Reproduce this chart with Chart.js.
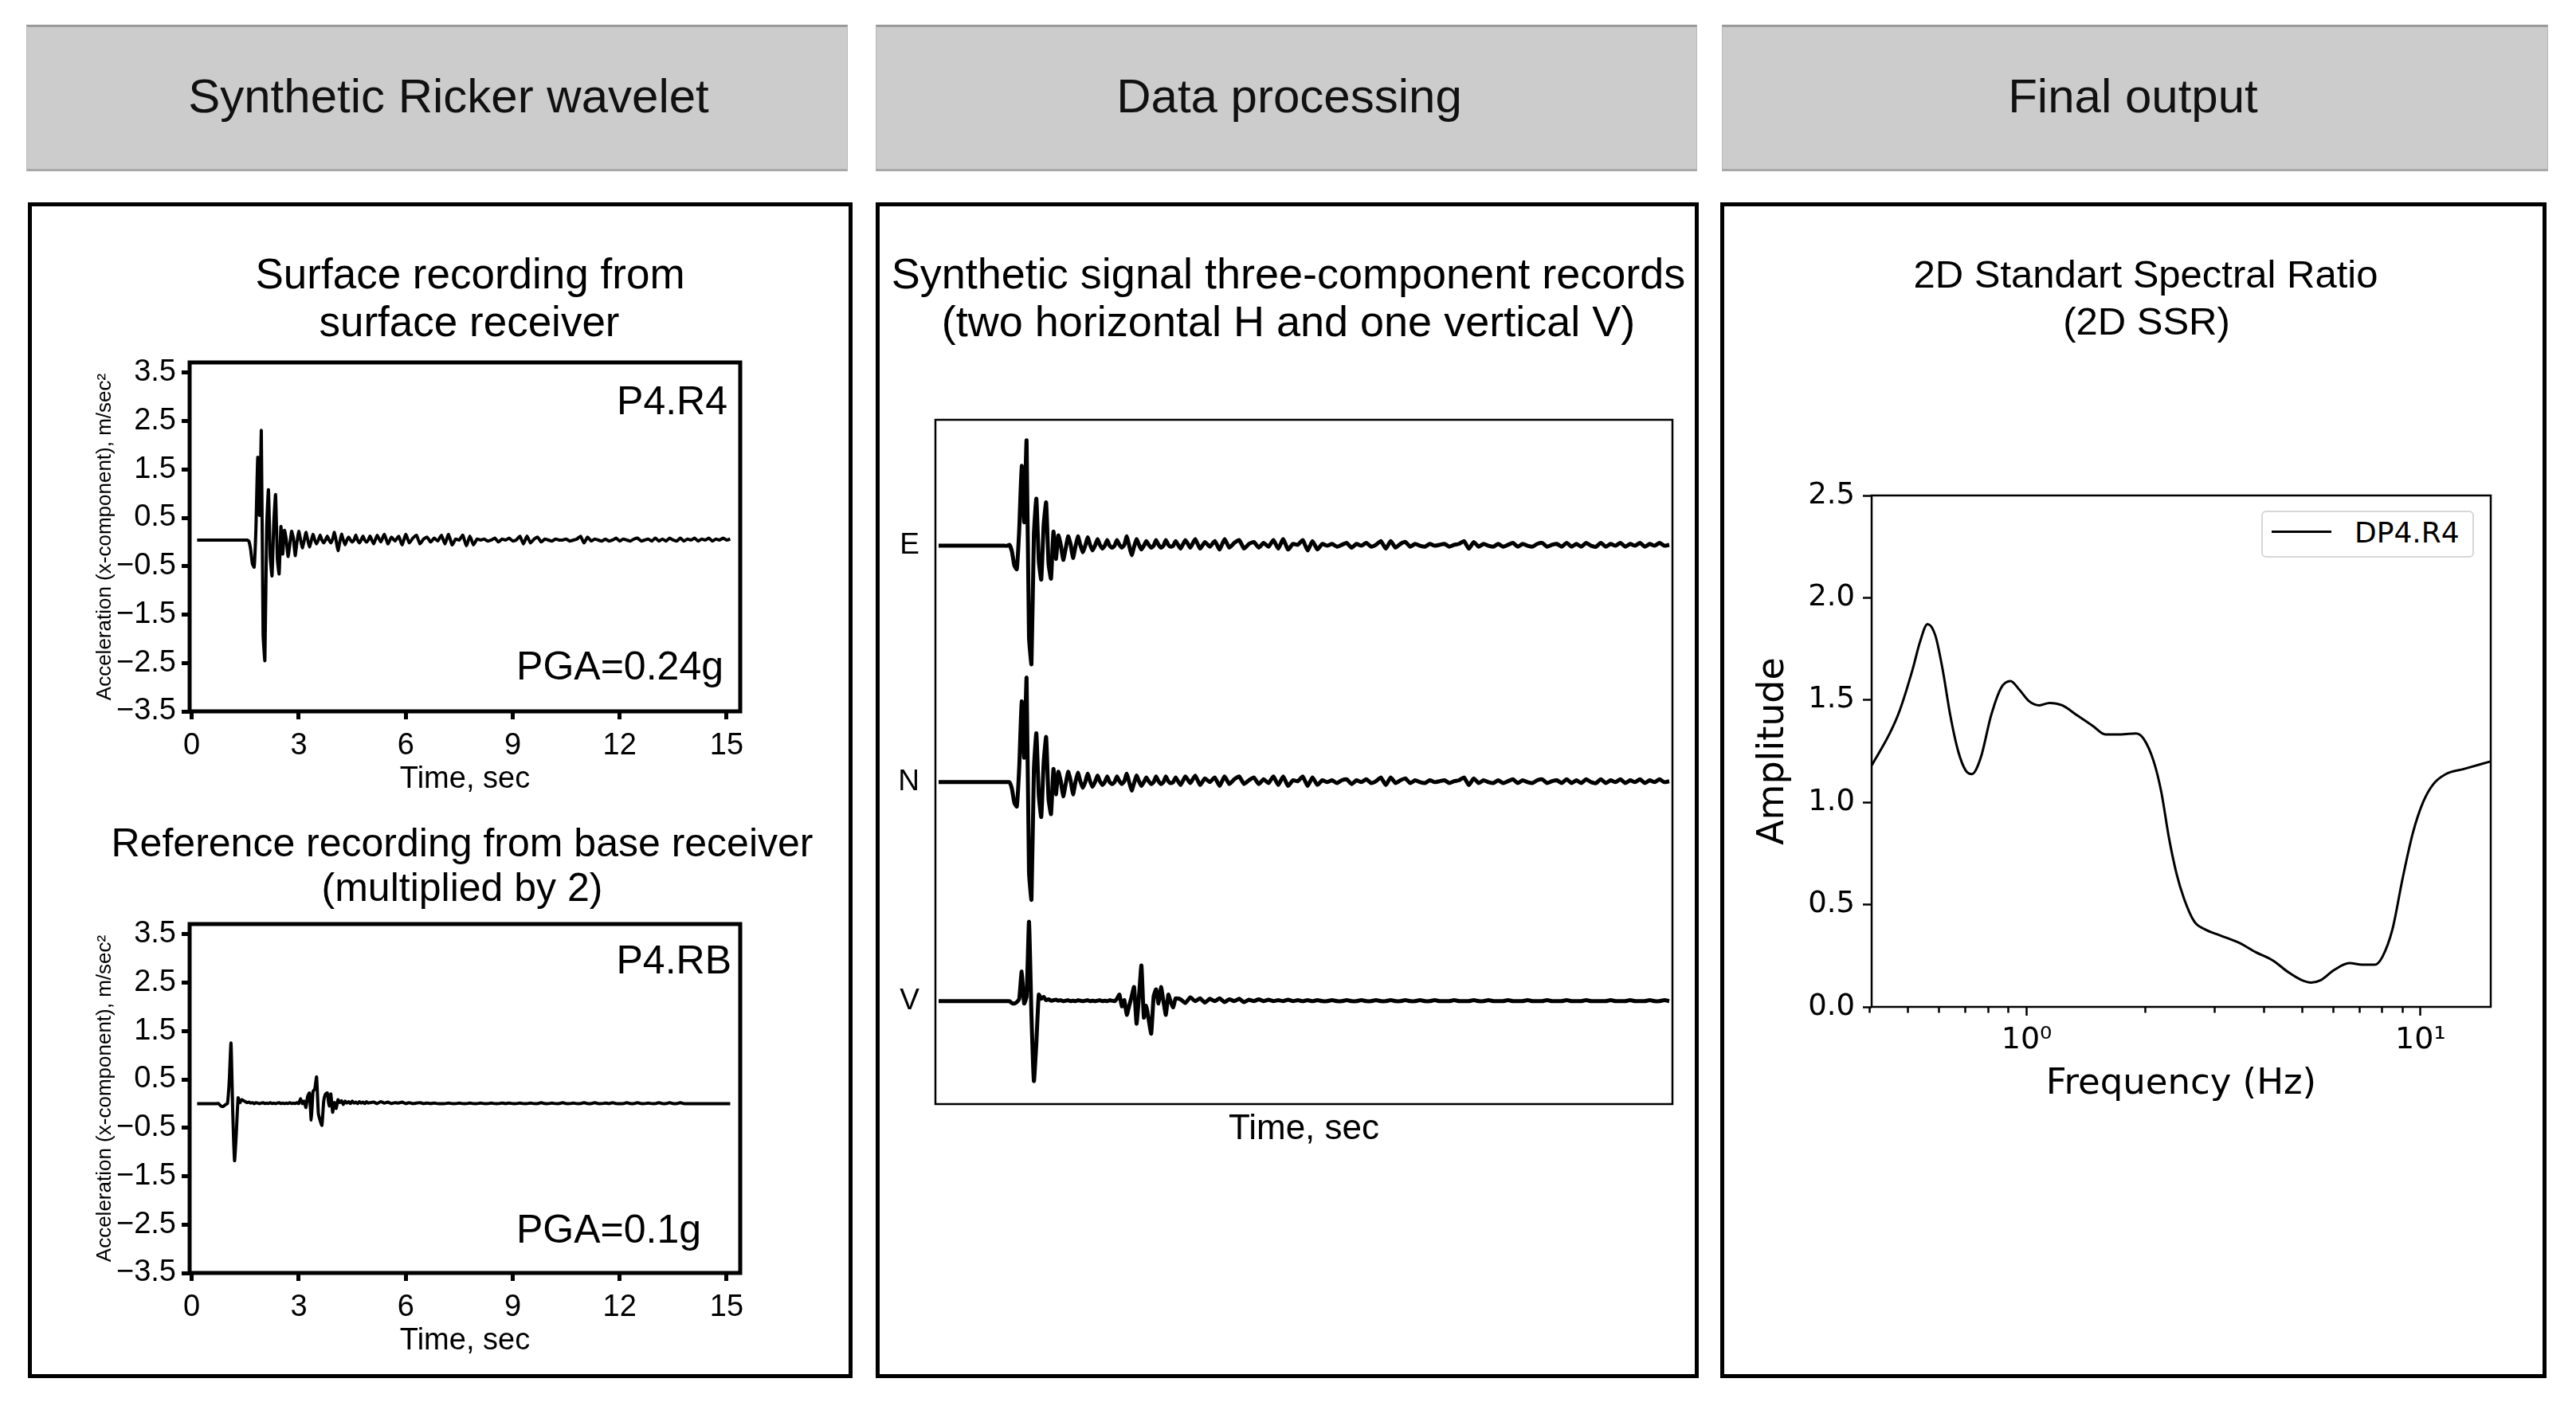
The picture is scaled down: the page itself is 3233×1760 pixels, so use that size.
<!DOCTYPE html>
<html><head><meta charset="utf-8"><title>Synthetic Ricker wavelet - 2D SSR</title>
<script src="https://cdn.jsdelivr.net/npm/chart.js@4.4.1/dist/chart.umd.min.js"></script>
<style>
html,body{margin:0;padding:0;background:#fff}
body{position:relative;width:3233px;height:1760px;overflow:hidden;font-family:'Liberation Sans',Arial,Helvetica,sans-serif;color:#000}
.hdr{position:absolute;top:31px;height:184px;box-sizing:border-box;background:#cccccc;border:1px solid #b8b8b8;border-top:3px solid #9a9a9a;border-bottom:3px solid #a8a8a8}
.panel{position:absolute;top:254px;height:1476px;box-sizing:border-box;border:5px solid #000;background:#fff}
.t{position:absolute;white-space:nowrap;line-height:1}
.c{text-align:center;width:1200px}
canvas{position:absolute}
.legend{position:absolute;left:2838px;top:641px;width:267px;height:59px;box-sizing:border-box;border:2px solid #d6d6d6;border-radius:6px;background:#fff}
.legend .ln{position:absolute;left:11px;top:23px;width:75px;height:3px;background:#000}
.legend .lt{position:absolute;left:115px;top:8px;font-family:'DejaVu Sans',sans-serif;font-size:36px;line-height:1;white-space:nowrap}
</style></head>
<body>
<div class="hdr" style="left:33px;width:1031px"></div>
<div class="hdr" style="left:1099px;width:1031px"></div>
<div class="hdr" style="left:2161px;width:1037px"></div>
<div class="panel" style="left:35px;width:1035px"></div>
<div class="panel" style="left:1099px;width:1033px"></div>
<div class="panel" style="left:2159px;width:1037px"></div>

<canvas id="rec1" width="859" height="586" style="left:100px;top:415px"></canvas>
<canvas id="rec2" width="859" height="586" style="left:100px;top:1120px"></canvas>
<canvas id="mid" width="1009" height="967" style="left:1110px;top:477px"></canvas>
<canvas id="ssr" width="986" height="816" style="left:2170px;top:572px"></canvas>

<div class="t c" style="left:-37px;top:91px;font-size:60px;color:#111">Synthetic Ricker wavelet</div>
<div class="t c" style="left:1018px;top:91px;font-size:60px;color:#111">Data processing</div>
<div class="t c" style="left:2077px;top:91px;font-size:60px;color:#111">Final output</div>

<div class="t c" style="left:-10px;top:317px;font-size:53px">Surface recording from</div>
<div class="t c" style="left:-11px;top:377px;font-size:53px">surface receiver</div>
<div class="t c" style="left:-20px;top:1033px;font-size:50px">Reference recording from base receiver</div>
<div class="t c" style="left:-20px;top:1089px;font-size:50px">(multiplied by 2)</div>

<div class="t c" style="left:1017px;top:316px;font-size:54px">Synthetic signal three-component records</div>
<div class="t c" style="left:1017px;top:376px;font-size:54px">(two horizontal H and one vertical V)</div>

<div class="t c" style="left:2093px;top:320px;font-size:49px">2D Standart Spectral Ratio</div>
<div class="t c" style="left:2094px;top:379px;font-size:49px">(2D SSR)</div>

<div class="t" style="right:2320px;top:478px;font-size:50px">P4.R4</div>
<div class="t" style="right:2325px;top:811px;font-size:50px">PGA=0.24g</div>
<div class="t" style="right:2315px;top:1180px;font-size:50px">P4.RB</div>
<div class="t" style="right:2353px;top:1518px;font-size:50px">PGA=0.1g</div>

<div class="legend"><div class="ln"></div><div class="lt" id="legendText"></div></div>

<script>
// ---------------- sampling of the acceleration records ----------------
const FINE_START = 0.15, FINE_STEP = 0.05;    // 0.15 s ... 5.00 s
const COARSE_START = 5.1, COARSE_STEP = 0.1;  // 5.1 s ... 15.1 s

// Surface recording P4.R4 (m/s^2)
const r4Fine = [
 0.04,0.04,0.04,0.04,0.04,0.04,0.04,0.04,0.04,0.04,
 0.04,0.04,0.04,0.04,0.04,0.04,0.04,0.04,0.04,0.04,
 0.04,0.04,0.04,0.04,0.04,0.04,0.04,0.04,0.04,
 0.02,-0.15,-0.45,-0.52,0.30,1.75,0.55,2.30,-1.90,-2.45,
 0.30,1.08,-0.30,-0.70,0.40,0.98,-0.35,-0.66,0.32,-0.25,
 0.24,0.05,-0.30,-0.05,0.22,0.08,-0.28,0.00,0.22,0.05,
 -0.12,0.02,0.20,0.05,-0.10,0.02,0.16,0.04,-0.04,0.04,
 0.14,0.04,-0.02,0.04,0.12,0.04,-0.02,0.06,0.20,0.02,
 -0.18,0.00,0.16,0.04,-0.06,0.04,0.10,0.04,0.00,0.04,
 0.14,0.04,-0.02,0.04,0.12,0.04,0.00,0.04,0.12
];
const r4Coarse = [
 -0.04,0.14,0.00,0.16,-0.04,0.10,0.02,0.12,-0.06,0.16,
 -0.02,0.08,0.14,-0.04,0.06,0.10,0.00,0.08,0.02,0.14,
 -0.04,0.16,-0.06,0.06,0.04,0.14,-0.08,0.12,-0.06,0.06,
 0.04,0.06,0.02,0.04,0.08,0.00,0.06,0.04,0.08,0.02,
 0.04,0.12,-0.04,0.12,-0.02,0.06,0.10,0.00,0.06,0.04,
 0.02,0.06,0.04,0.04,0.06,0.02,0.04,0.06,0.12,-0.02,
 0.10,0.02,0.06,0.04,0.02,0.06,0.02,0.04,0.08,0.02,
 0.06,0.04,0.02,0.06,0.08,0.02,0.04,0.06,0.02,0.08,
 0.02,0.06,0.02,0.08,0.04,0.02,0.08,0.02,0.06,0.04,
 0.08,0.02,0.06,0.04,0.08,0.02,0.06,0.04,0.08,0.04,
 0.06
];

// Reference recording P4.RB, multiplied by 2 (m/s^2)
const rbFine = [
 0,0,0,0,0,0,0,0,0,0,
 0,0,0,-0.04,-0.06,-0.05,-0.02,0.00,0.45,1.25,
 -0.20,-1.18,-0.60,0.12,0.02,0.08,0.06,0.04,0.02,
 0.03,0.01,0.02,0.00,0.02,0.01,0.00,0.01,0.02,0.00,
 0.01,0.00,0.02,0.00,0.01,0.00,0.01,0.02,0.00,0.01,
 0.00,0.01,0.00,0.02,0.00,0.01,0.00,0.02,0.00,0.10,
 0.00,0.05,-0.08,0.15,0.22,-0.34,0.25,0.30,0.55,-0.20,
 -0.35,-0.45,0.05,0.20,0.22,-0.05,0.20,-0.18,0.02,-0.10,
 0.08,0.02,0.06,-0.02,0.05,0.01,0.04,0.00,0.05,0.01,
 0.03,0.00,0.04,0.01,0.03,0.00,0.04,0.01,0.02
];
const rbCoarse = [
 0.03,0.00,0.04,0.01,0.03,0.00,0.02,0.01,0.03,0.00,
 0.02,0.00,0.01,0.02,0.00,0.01,0.00,0.01,0.00,0.00,
 0.00,0.01,0.00,0.00,0.01,0.00,0.00,0.01,0.00,0.00,
 0.01,0.00,0.00,0.01,0.00,0.00,0.01,0.00,0.01,0.00,
 0.00,0.01,0.00,0.00,0.01,0.00,0.00,0.02,0.00,0.00,
 0.01,0.00,0.00,0.02,0.00,0.00,0.01,0.00,0.00,0.02,
 0.00,0.00,0.02,0.00,0.00,0.01,0.00,0.02,0.00,0.00,
 0.00,0.02,0.00,0.00,0.02,0.00,0.00,0.01,0.00,0.00,
 0.02,0.00,0.00,0.02,0.00,0.00,0.02,0.00,0.00,0.00,
 0.00,0.00,0.00,0.00,0.00,0.00,0.00,0.00,0.00,0.00,
 0.00
];

// Three-component synthetic records (relative amplitude)
const eFine = [
 0,0,0,0,0,0,0,0,0,0,
 0,0,0,0,0,0,0,0,0,0,
 0,0,0,0,0,0,0,0,0,
 0.02,-0.12,-0.42,-0.50,0.35,1.70,0.50,2.24,-1.95,-2.52,
 0.25,1.00,-0.32,-0.72,0.45,0.92,-0.38,-0.70,0.30,-0.28,
 0.22,0.02,-0.30,-0.06,0.20,0.04,-0.26,-0.02,0.20,0.02,
 -0.14,0.00,0.18,0.02,-0.10,0.00,0.14,0.02,-0.06,0.00,
 0.12,0.00,-0.04,0.00,0.12,0.02,-0.04,0.02,0.20,0.00,
 -0.20,-0.02,0.14,0.02,-0.08,0.00,0.10,0.02,-0.04,0.00,
 0.12,0.02,-0.04,0.00,0.12,0.02,-0.02,0.00,0.10
];
const eCoarse = [
 -0.06,0.12,-0.04,0.14,-0.06,0.08,-0.02,0.10,-0.08,0.14,
 -0.04,0.06,0.12,-0.06,0.04,0.08,-0.04,0.06,-0.02,0.12,
 -0.06,0.14,-0.08,0.04,0.02,0.12,-0.10,0.10,-0.08,0.04,
 0.00,0.04,-0.02,0.02,0.06,-0.04,0.04,0.00,0.06,-0.02,
 0.02,0.10,-0.06,0.10,-0.04,0.04,0.08,-0.02,0.04,0.00,
 -0.02,0.04,0.00,0.02,0.04,-0.02,0.02,0.04,0.10,-0.06,
 0.08,-0.02,0.04,0.00,-0.02,0.04,-0.02,0.02,0.06,-0.02,
 0.04,0.00,-0.02,0.04,0.06,-0.02,0.02,0.04,-0.02,0.06,
 -0.02,0.04,-0.02,0.06,0.00,-0.02,0.06,-0.02,0.04,0.00,
 0.06,-0.02,0.04,0.00,0.06,-0.02,0.04,0.00,0.06,0.00,
 0.02
];
const nFine = [
 0,0,0,0,0,0,0,0,0,0,
 0,0,0,0,0,0,0,0,0,0,
 0,0,0,0,0,0,0,0,0,
 0.00,-0.14,-0.44,-0.52,0.32,1.72,0.52,2.22,-1.92,-2.50,
 0.28,1.04,-0.28,-0.74,0.42,0.96,-0.36,-0.68,0.28,-0.26,
 0.22,0.02,-0.30,-0.04,0.22,0.04,-0.26,0.00,0.20,0.02,
 -0.12,0.00,0.18,0.02,-0.10,0.00,0.14,0.02,-0.06,0.00,
 0.12,0.00,-0.04,0.00,0.12,0.02,-0.04,0.02,0.18,0.00,
 -0.18,-0.02,0.14,0.02,-0.08,0.00,0.10,0.02,-0.04,0.00,
 0.12,0.02,-0.04,0.00,0.12,0.02,-0.02,0.00,0.10
];
const nCoarse = [
 -0.06,0.12,-0.02,0.14,-0.06,0.08,0.00,0.10,-0.08,0.12,
 -0.04,0.06,0.12,-0.04,0.04,0.10,-0.04,0.06,-0.02,0.12,
 -0.06,0.12,-0.08,0.04,0.02,0.12,-0.08,0.10,-0.06,0.04,
 0.00,0.04,-0.02,0.04,0.06,-0.04,0.04,0.00,0.06,-0.02,
 0.02,0.10,-0.06,0.10,-0.02,0.04,0.08,-0.02,0.04,0.00,
 -0.02,0.04,0.00,0.02,0.04,-0.02,0.02,0.04,0.10,-0.06,
 0.08,-0.02,0.04,0.00,-0.02,0.04,-0.02,0.02,0.06,-0.02,
 0.04,0.00,-0.02,0.04,0.06,-0.02,0.02,0.04,-0.02,0.06,
 -0.02,0.04,-0.02,0.06,0.00,-0.02,0.06,-0.02,0.04,0.00,
 0.06,-0.02,0.04,0.00,0.06,-0.02,0.04,0.00,0.06,0.00,
 0.02
];
const vFine = [
 0,0,0,0,0,0,0,0,0,0,
 0,0,0,0,0,0,0,0,0,0,
 0,0,0,0,0,0,0,0,0,
 0.00,-0.04,-0.05,-0.02,0.05,0.63,-0.05,0.10,1.69,-0.30,
 -1.70,-0.89,0.14,0.05,0.09,0.02,0.04,0.01,0.02,0.03,
 0.01,0.02,0.00,0.01,0.02,0.00,0.01,0.00,0.02,0.01,
 0.00,0.01,0.02,0.00,0.01,0.00,0.01,0.02,0.00,0.01,
 0.00,0.02,0.01,0.00,0.05,0.14,-0.11,0.02,-0.29,-0.10,
 0.10,0.30,-0.48,0.10,0.76,-0.35,-0.10,-0.40,-0.69,0.10,
 0.25,-0.05,0.30,0.00,-0.29,0.14,-0.02,-0.13,0.06
];
const vCoarse = [
 0.04,-0.04,0.08,0.00,0.06,-0.03,0.05,0.00,0.06,-0.02,
 0.04,0.00,0.05,-0.02,0.03,0.00,0.04,0.00,0.03,0.00,
 0.02,0.00,0.03,0.00,0.02,0.00,0.02,0.00,0.02,0.00,
 0.00,0.02,0.00,0.00,0.02,0.00,0.00,0.02,0.00,0.00,
 0.02,0.00,0.00,0.02,0.00,0.00,0.02,0.00,0.00,0.02,
 0.00,0.00,0.02,0.00,0.00,0.00,0.02,0.00,0.00,0.00,
 0.02,0.00,0.00,0.02,0.00,0.00,0.00,0.02,0.00,0.00,
 0.00,0.02,0.00,0.00,0.00,0.02,0.00,0.00,0.00,0.02,
 0.00,0.00,0.00,0.02,0.00,0.00,0.00,0.00,0.02,0.00,
 0.00,0.00,0.02,0.00,0.00,0.00,0.02,0.00,0.00,0.02,
 0.00
];

const TRACE_NAMES = ['E', 'N', 'V'];
const TRACE_OFFSETS = {E: 9.69, N: 4.66, V: 0};

// Axis ticks / ranges
const REC_X_TICKS = [0, 3, 6, 9, 12, 15];
const REC_Y_TICKS = [-3.5, -2.5, -1.5, -0.5, 0.5, 1.5, 2.5, 3.5];
const REC_T_MIN = -0.06, REC_T_MAX = 15.38, REC_Y_MIN = -3.5, REC_Y_MAX = 3.71;
const MID_T_MIN = 0.085, MID_T_MAX = 15.165, MID_Y_MIN = -2.19, MID_Y_MAX = 12.37;

// 2D Standard Spectral Ratio
const SSR_LABEL = 'DP4.R4';
const freqHz = [0.404,0.449,0.476,0.513,0.536,0.560,0.586,0.612,0.640,0.670,0.700,0.726,0.765,0.812,0.862,0.910,0.956,1.015,1.077,1.143,1.231,1.346,1.472,1.585,1.733,1.894,1.98,2.102,2.197,2.297,2.40,2.51,2.665,2.829,3.093,3.483,3.81,4.225,4.62,4.98,5.28,5.60,6.04,6.60,7.11,7.65,8.0,8.49,9.01,9.57,10.15,10.77,11.6,12.88,15.07];
const ssrAmp = [1.18,1.337,1.449,1.648,1.784,1.871,1.817,1.648,1.424,1.25,1.156,1.138,1.22,1.424,1.561,1.593,1.553,1.494,1.474,1.486,1.474,1.424,1.374,1.332,1.332,1.337,1.312,1.20,1.051,0.828,0.654,0.529,0.417,0.380,0.350,0.311,0.268,0.226,0.169,0.132,0.119,0.132,0.181,0.214,0.206,0.206,0.244,0.380,0.629,0.852,1.0,1.088,1.138,1.163,1.20];
const SSR_X_TICKS = [0.4,0.5,0.6,0.7,0.8,0.9,1,2,3,4,5,6,7,8,9,10];
const SSR_X_LABELS = {1: '10\u2070', 10: '10\u00B9'};
const SSR_Y_TICKS = [0, 0.5, 1, 1.5, 2, 2.5];
const SSR_F_MIN = 0.404, SSR_F_MAX = 15.08;

// ---------------- helpers ----------------
const FONT_SANS = "'Liberation Sans', Arial, sans-serif";
const FONT_MPL = "'DejaVu Sans', sans-serif";

const framePlugin = {
  id: 'frame',
  afterDraw(chart, args, opts) {
    const {ctx, chartArea: a} = chart;
    ctx.save();
    ctx.strokeStyle = '#000';
    ctx.lineWidth = opts.width || 2;
    ctx.strokeRect(a.left, a.top, a.right - a.left, a.bottom - a.top);
    ctx.restore();
  }
};

function seismoPoints(fine, coarse) {
  const pts = fine.map((v, i) => ({x: Math.round((FINE_START + i * FINE_STEP) * 100) / 100, y: v}));
  coarse.forEach((v, i) => pts.push({x: Math.round((COARSE_START + i * COARSE_STEP) * 100) / 100, y: v}));
  return pts;
}
function minusFmt(v) { return (v < 0 ? '\u2212' : '') + Math.abs(v).toFixed(1); }

const baseOpts = {responsive: false, animation: false, devicePixelRatio: 1, events: []};

function makeRecordChart(id, fine, coarse) {
  const tickGrid = {drawOnChartArea: false, drawTicks: true, tickLength: 10, tickWidth: 5, tickColor: '#000'};
  return new Chart(document.getElementById(id), {
    type: 'line',
    data: {datasets: [{data: seismoPoints(fine, coarse), borderColor: '#000', borderWidth: 4, pointRadius: 0, tension: 0.15, borderJoinStyle: 'round', fill: false}]},
    options: Object.assign({}, baseOpts, {
      layout: {padding: {left: 0, top: 40, right: 30, bottom: 0}},
      plugins: {legend: {display: false}, tooltip: {enabled: false}, frame: {width: 5}},
      scales: {
        x: {type: 'linear', min: REC_T_MIN, max: REC_T_MAX,
          afterBuildTicks: s => { s.ticks = REC_X_TICKS.map(v => ({value: v})); },
          afterFit: s => { s.height = 108; },
          ticks: {color: '#000', font: {family: FONT_SANS, size: 38}, padding: 11, autoSkip: false, maxRotation: 0, callback: v => String(v)},
          grid: tickGrid, border: {display: false},
          title: {display: true, text: 'Time, sec', color: '#000', font: {family: FONT_SANS, size: 38}, padding: 0}},
        y: {type: 'linear', min: REC_Y_MIN, max: REC_Y_MAX,
          afterBuildTicks: s => { s.ticks = REC_Y_TICKS.map(v => ({value: v})); },
          afterFit: s => { s.width = 138; },
          ticks: {color: '#000', font: {family: FONT_SANS, size: 38}, padding: 7, autoSkip: false, callback: v => minusFmt(v)},
          grid: tickGrid, border: {display: false},
          title: {display: true, text: 'Acceleration (x-component), m/sec\u00B2', color: '#000', font: {family: FONT_SANS, size: 26}, padding: {top: 16, bottom: 0}}}
      }
    }),
    plugins: [framePlugin]
  });
}

makeRecordChart('rec1', r4Fine, r4Coarse);
makeRecordChart('rec2', rbFine, rbCoarse);

// Middle: three-component records
const traceData = {E: [eFine, eCoarse], N: [nFine, nCoarse], V: [vFine, vCoarse]};
new Chart(document.getElementById('mid'), {
  type: 'line',
  data: {datasets: TRACE_NAMES.map(name => ({
    label: name,
    data: seismoPoints(traceData[name][0], traceData[name][1]).map(p => ({x: p.x, y: p.y + TRACE_OFFSETS[name]})),
    borderColor: '#000', borderWidth: 5, pointRadius: 0, tension: 0.15, borderJoinStyle: 'round', fill: false
  }))},
  options: Object.assign({}, baseOpts, {
    layout: {padding: {left: 0, top: 50, right: 20, bottom: 0}},
    plugins: {legend: {display: false}, tooltip: {enabled: false}, frame: {width: 2.5}},
    scales: {
      x: {type: 'linear', min: MID_T_MIN, max: MID_T_MAX,
        ticks: {display: false}, grid: {display: false, drawTicks: false}, border: {display: false},
        afterFit: s => { s.height = 58; },
        title: {display: true, text: 'Time, sec', color: '#000', font: {family: FONT_SANS, size: 44}, padding: 0}},
      y: {type: 'linear', min: MID_Y_MIN, max: MID_Y_MAX,
        afterBuildTicks: s => { s.ticks = TRACE_NAMES.map(n => ({value: TRACE_OFFSETS[n]})); },
        afterFit: s => { s.width = 64; },
        ticks: {color: '#000', font: {family: FONT_SANS, size: 37}, padding: 20, autoSkip: false, callback: (v, i) => TRACE_NAMES[i]},
        grid: {display: false, drawTicks: false}, border: {display: false}}
    }
  }),
  plugins: [framePlugin]
});

// Right: 2D SSR
const ssrGrid = {drawOnChartArea: false, drawTicks: true, tickLength: 11, tickWidth: 2.5, tickColor: '#000'};
new Chart(document.getElementById('ssr'), {
  type: 'line',
  data: {datasets: [{label: SSR_LABEL, data: freqHz.map((f, i) => ({x: f, y: ssrAmp[i]})), borderColor: '#000', borderWidth: 3, pointRadius: 0, cubicInterpolationMode: 'monotone', fill: false}]},
  options: Object.assign({}, baseOpts, {
    layout: {padding: {left: 0, top: 50, right: 30, bottom: 0}},
    plugins: {legend: {display: false}, tooltip: {enabled: false}, frame: {width: 2.5}},
    scales: {
      x: {type: 'logarithmic', min: SSR_F_MIN, max: SSR_F_MAX,
        afterBuildTicks: s => { s.ticks = SSR_X_TICKS.map(v => ({value: v})); },
        afterFit: s => { s.height = 124; },
        ticks: {color: '#000', font: {family: FONT_MPL, size: 38}, padding: 8, autoSkip: false, maxRotation: 0, callback: v => SSR_X_LABELS[v] || ''},
        grid: Object.assign({}, ssrGrid, {tickBorderDash: c => (c.tick && SSR_X_LABELS[c.tick.value]) ? [] : [7.5, 40]}),
        border: {display: false},
        title: {display: true, text: 'Frequency (Hz)', color: '#000', font: {family: FONT_MPL, size: 45}, padding: 0}},
      y: {type: 'linear', min: 0, max: 2.5,
        afterBuildTicks: s => { s.ticks = SSR_Y_TICKS.map(v => ({value: v})); },
        afterFit: s => { s.width = 179; },
        ticks: {color: '#000', font: {family: FONT_MPL, size: 37}, padding: 10, autoSkip: false, callback: v => v.toFixed(1)},
        grid: ssrGrid, border: {display: false},
        title: {display: true, text: 'Amplitude', color: '#000', font: {family: FONT_MPL, size: 46}, padding: {top: 28, bottom: 0}}}
    }
  }),
  plugins: [framePlugin]
});
document.getElementById('legendText').textContent = SSR_LABEL;
</script>
</body></html>
